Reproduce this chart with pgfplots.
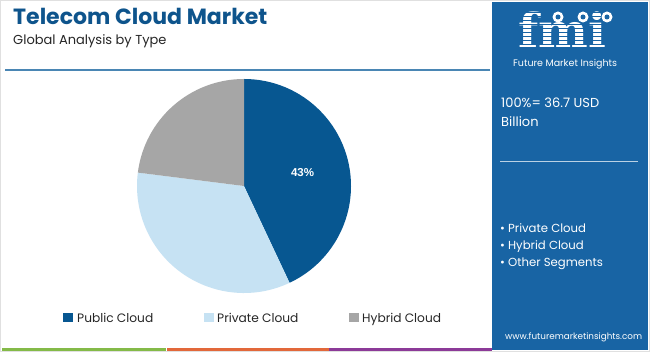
\documentclass[border=0pt]{standalone}
\usepackage{pgfplots}
\pgfplotsset{compat=1.18}
\usepackage{pgfplotstable}
\usepackage{fontspec}
\setmainfont{Poppins}
\newfontfamily\arialfont{Liberation Sans}
\newfontfamily\logofont{DejaVu Serif}
\definecolor{titleblue}{RGB}{14,84,140}
\definecolor{pubc}{RGB}{7,87,145}
\definecolor{privc}{RGB}{198,226,243}
\definecolor{hybc}{RGB}{166,166,166}
\definecolor{panel}{RGB}{24,100,164}
\definecolor{rule}{RGB}{74,134,180}
\definecolor{sgreen}{RGB}{132,186,72}
\definecolor{sorange}{RGB}{226,104,58}
\definecolor{spurple}{RGB}{140,58,152}
\pgfplotstableread{
name value
Public 43
Private 34
Hybrid 23
}\piedata
\begin{document}
\begin{tikzpicture}[x=1pt,y=1pt]
\useasboundingbox (0,0) rectangle (650,352);
\fill[white] (0,0) rectangle (650,352);
\draw[black!12, line width=1pt] (0.5,0.5) rectangle (649.5,351.5);
% title
\node[anchor=base west, inner sep=0pt, text=titleblue, font=\fontsize{22}{26}\selectfont\bfseries] at (13,327) {Telecom Cloud Market};
\node[anchor=base west, inner sep=0pt, text=black!85, font=\fontsize{13}{16}\selectfont] at (13,307) {Global Analysis by Type};
\draw[rule, line width=1.5pt] (5,282) -- (490,282);
% right panel
\fill[panel] (492,2) rectangle (648,350);
\node[anchor=base west, inner sep=0pt, text=white, font=\logofont\fontsize{47}{47}\selectfont\bfseries] at (518,304) {fmi};
\foreach \yy in {307,311,...,343} {\draw[panel, line width=1pt] (512,\yy) -- (625,\yy);}
\foreach \xx in {558,583,607} {\fill[white] (\xx,335) circle (5.5); \fill[panel] (\xx,335) circle (2.5);}
\node[anchor=base west, inner sep=0pt, text=white, font=\fontsize{9.5}{11}\selectfont] at (513,285) {Future Market Insights};
\node[anchor=base west, inner sep=0pt, text=white, font=\fontsize{13}{16}\selectfont] at (501,244) {100\%= 36.7 USD};
\node[anchor=base west, inner sep=0pt, text=white, font=\fontsize{13}{16}\selectfont] at (501,225) {Billion};
\draw[white!70!panel, line width=1pt] (500,190) -- (638,190);
\node[anchor=base west, inner sep=0pt, text=white, font=\fontsize{11.7}{14}\selectfont] at (500,119) {\textbullet\ Private Cloud};
\node[anchor=base west, inner sep=0pt, text=white, font=\fontsize{11.7}{14}\selectfont] at (500,102) {\textbullet\ Hybrid Cloud};
\node[anchor=base west, inner sep=0pt, text=white, font=\fontsize{11.7}{14}\selectfont] at (500,85) {\textbullet\ Other Segments};
\node[anchor=base west, inner sep=0pt, text=white, font=\fontsize{8.8}{10}\selectfont] at (505,12) {www.futuremarketinsights.com};
% bottom strip
\fill[sgreen] (2,1) rectangle (166,4);
\fill[sorange] (167,1) rectangle (329,4);
\fill[spurple] (329,1) rectangle (492,4);
% legend
\fill[pubc] (63,30) rectangle (73,39);
\node[anchor=base west, inner sep=0pt, text=black!85, font=\fontsize{12.2}{15}\selectfont] at (77,29) {Public Cloud};
\fill[privc] (204,30) rectangle (214,39);
\node[anchor=base west, inner sep=0pt, text=black!85, font=\fontsize{12.2}{15}\selectfont] at (217,29) {Private Cloud};
\fill[hybc] (349,30) rectangle (359,39);
\node[anchor=base west, inner sep=0pt, text=black!85, font=\fontsize{12.2}{15}\selectfont] at (362,29) {Hybrid Cloud};
% pie angles from data
\pgfplotstablegetelem{0}{value}\of\piedata \pgfmathsetmacro\va{\pgfplotsretval}
\pgfplotstablegetelem{1}{value}\of\piedata \pgfmathsetmacro\vb{\pgfplotsretval}
\pgfplotstablegetelem{2}{value}\of\piedata \pgfmathsetmacro\vc{\pgfplotsretval}
\pgfmathtruncatemacro\vai{\va}
\pgfmathsetmacro\aA{90-3.6*\va}
\pgfmathsetmacro\aB{\aA-3.6*\vb}
\pgfmathsetmacro\aC{\aB-3.6*\vc}
\pgfmathsetmacro\mA{90-1.8*\va}
\begin{axis}[at={(244pt,166pt)}, anchor=origin, x=1pt, y=1pt,
  xmin=-110, xmax=110, ymin=-110, ymax=110, hide axis, clip=false]
\addplot[draw=none] coordinates {(0,0)};
\fill[pubc] (axis cs:0,0) -- ++(90:107pt) arc[start angle=90, end angle=\aA, radius=107pt] -- cycle;
\fill[privc] (axis cs:0,0) -- ++(\aA:107pt) arc[start angle=\aA, end angle=\aB, radius=107pt] -- cycle;
\fill[hybc] (axis cs:0,0) -- ++(\aB:107pt) arc[start angle=\aB, end angle=\aC, radius=107pt] -- cycle;
\node[text=white, font=\arialfont\fontsize{11.5}{13}\selectfont\bfseries] at ([shift={(\mA:60pt)}]axis cs:0,0) {\vai\%};
\end{axis}
\end{tikzpicture}
\end{document}
